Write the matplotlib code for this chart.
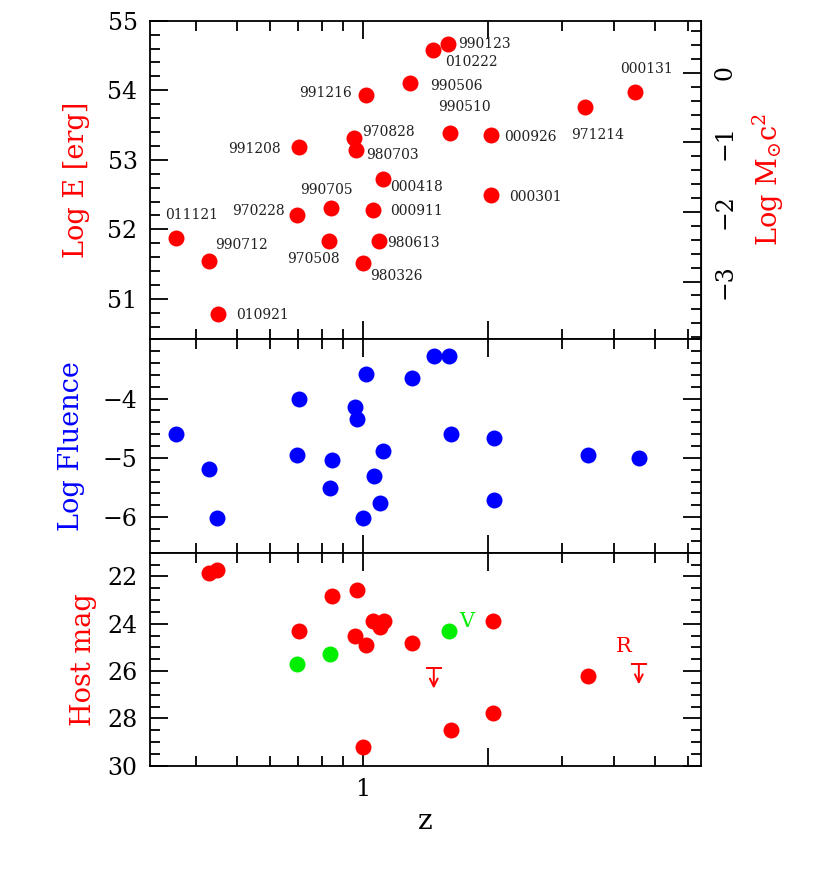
import matplotlib
matplotlib.use("Agg")
import matplotlib.pyplot as plt
from matplotlib.ticker import MultipleLocator, FixedLocator, FixedFormatter, NullFormatter

# --- top panel: isotropic energy per burst
grb = ["011121", "990712", "010921", "970228", "991208", "990705", "970508",
       "970828", "980703", "991216", "980326", "980613", "000911", "000418",
       "990506", "010222", "990123", "990510", "000926", "000301", "971214",
       "000131"]
z_e = [0.358, 0.429, 0.450, 0.695, 0.705, 0.840, 0.833, 0.955, 0.963, 1.017,
       1.00, 1.092, 1.057, 1.116, 1.30, 1.47, 1.60, 1.62, 2.03, 2.03, 3.41, 4.48]
log_e = [51.88, 51.54, 50.79, 52.21, 53.19, 52.31, 51.83, 53.32, 53.14, 53.93,
         51.51, 51.84, 52.28, 52.73, 54.11, 54.58, 54.66, 53.38, 53.35, 52.50,
         53.76, 53.98]
# label offsets from the dot, in pixels (dx, dy up)
lab_off = [(15, 23), (33, 16), (45, -1), (-38, 4), (-45, -2), (-5, 18),
           (-16, -18), (34, 6), (37, -5), (-40, 2), (34, -13), (35, -2),
           (44, -1), (34, -8), (46, -3), (39, -12), (37, 0), (14, 26),
           (39, -2), (44, -2), (12, -28), (12, 23)]
LOG_MSUN_C2 = 54.25

# --- middle panel: fluence
z_f = [0.357, 0.428, 0.448, 0.705, 0.695, 0.845, 0.836, 0.960, 0.968, 1.00,
       1.02, 1.063, 1.12, 1.10, 1.31, 1.48, 1.61, 1.63, 2.06, 2.06, 3.47, 4.58]
log_f = [-4.60, -5.19, -6.01, -4.00, -4.96, -5.03, -5.51, -4.15, -4.34, -6.01,
         -3.59, -5.31, -4.89, -5.77, -3.65, -3.29, -3.29, -4.59, -4.66, -5.71,
         -4.96, -5.00]

# --- bottom panel: host magnitudes (R red, V green, R upper limits)
z_r = [0.428, 0.448, 0.845, 0.968, 0.705, 0.958, 1.02, 1.059, 1.10, 1.125,
       1.31, 2.05, 3.47, 2.05, 1.63, 1.00]
mag_r = [21.85, 21.72, 22.81, 22.59, 24.29, 24.51, 24.88, 23.90, 24.16, 23.90,
         24.81, 23.88, 26.20, 27.79, 28.50, 29.19]
z_v = [0.695, 0.836, 1.61]
mag_v = [25.71, 25.27, 24.30]
z_lim = [1.48, 4.58]
mag_lim = [25.89, 25.71]

RED, BLUE, GREEN = "#ff0000", "#0000ff", "#00ee00"
plt.rcParams["font.family"] = "DejaVu Serif"
plt.rcParams["mathtext.fontset"] = "dejavuserif"

W, H = 817, 872
fig = plt.figure(figsize=(W / 100, H / 100), dpi=100)
x0, x1 = 150 / W, 701 / W
def panel(top, bot, sharex=None):
    return fig.add_axes([x0, 1 - bot / H, x1 - x0, (bot - top) / H], sharex=sharex)

ax1 = panel(20.7, 339.3)
ax2 = panel(339.3, 552.7, ax1)
ax3 = panel(552.7, 765.7, ax1)

ms = 11.5
ax1.plot(z_e, log_e, "o", color=RED, ms=ms, mec="none")
for name, z, e, (dx, dy) in zip(grb, z_e, log_e, lab_off):
    ax1.annotate(name, (z, e), xytext=(dx * 0.72, dy * 0.72), textcoords="offset points",
                 ha="center", va="center", fontsize=10, color="#222222")

ax2.plot(z_f, log_f, "o", color=BLUE, ms=ms, mec="none")

ax3.plot(z_r, mag_r, "o", color=RED, ms=ms, mec="none")
ax3.plot(z_v, mag_v, "o", color=GREEN, ms=ms, mec="none")
ax3.plot(z_lim, mag_lim, "_", color=RED, ms=12, mew=1.4)
for z, m in zip(z_lim, mag_lim):
    ax3.annotate("", xy=(z, m + 0.85), xytext=(z, m),
                 arrowprops=dict(arrowstyle="->", color=RED, lw=1.4,
                                 shrinkA=0, shrinkB=0, mutation_scale=14))
ax3.text(1.78, 23.92, "V", color=GREEN, fontsize=15, ha="center", va="center")
ax3.text(4.22, 24.98, "R", color=RED, fontsize=15, ha="center", va="center")

# axes
ax1.set_xscale("log")
ax1.set_xlim(0.31, 6.45)
ax1.set_ylim(50.42, 55.0)
ax2.set_ylim(-6.6, -3.0)
ax3.set_ylim(30.0, 21.0)

ax1.yaxis.set_major_locator(MultipleLocator(1))
ax1.yaxis.set_minor_locator(MultipleLocator(0.2))
ax2.yaxis.set_major_locator(FixedLocator([-6, -5, -4]))
ax2.yaxis.set_minor_locator(MultipleLocator(0.2))
ax3.yaxis.set_major_locator(MultipleLocator(2))
ax3.yaxis.set_minor_locator(MultipleLocator(0.5))

for ax in (ax1, ax2, ax3):
    ax.xaxis.set_major_locator(FixedLocator([1, 2]))
    ax.xaxis.set_minor_locator(FixedLocator([0.4, 0.5, 0.6, 0.7, 0.8, 0.9, 3, 4, 5, 6]))
    ax.xaxis.set_minor_formatter(NullFormatter())
    ax.tick_params(which="both", direction="in", top=True, bottom=True, left=True,
                   right=(ax is not ax1), width=1.3, labelsize=17, pad=9)
    ax.tick_params(which="major", length=13)
    ax.tick_params(which="minor", length=7)
    for s in ax.spines.values():
        s.set_linewidth(1.3)
ax3.xaxis.set_major_formatter(FixedFormatter(["1", ""]))
ax1.tick_params(labelbottom=False)
ax2.tick_params(labelbottom=False)

sec = ax1.secondary_yaxis("right", functions=(lambda e: e - LOG_MSUN_C2,
                                              lambda m: m + LOG_MSUN_C2))
sec.yaxis.set_major_locator(FixedLocator([-3, -2, -1, 0]))
sec.yaxis.set_minor_locator(MultipleLocator(0.2))
sec.tick_params(which="both", direction="in", width=1.3, labelsize=17, pad=9)
sec.tick_params(which="major", length=13)
sec.tick_params(which="minor", length=7)
for lab in sec.get_yticklabels():
    lab.set_rotation(90)
    lab.set_va("center")
sec.set_ylabel(r"Log M$_{\odot}$c$^2$", color=RED, fontsize=19.5, labelpad=10)

ax1.set_ylabel("Log E [erg]", color=RED, fontsize=19.5)
ax2.set_ylabel("Log Fluence", color=BLUE, fontsize=19.5)
ax3.set_ylabel("Host mag", color=RED, fontsize=19.5)
ax1.yaxis.set_label_coords(-60 / 551, 0.5)
ax2.yaxis.set_label_coords(-65 / 551, 0.5)
ax3.yaxis.set_label_coords(-53 / 551, 0.5)
ax3.set_xlabel("z", fontsize=20, labelpad=5)

fig.savefig("out.png", dpi=100)
